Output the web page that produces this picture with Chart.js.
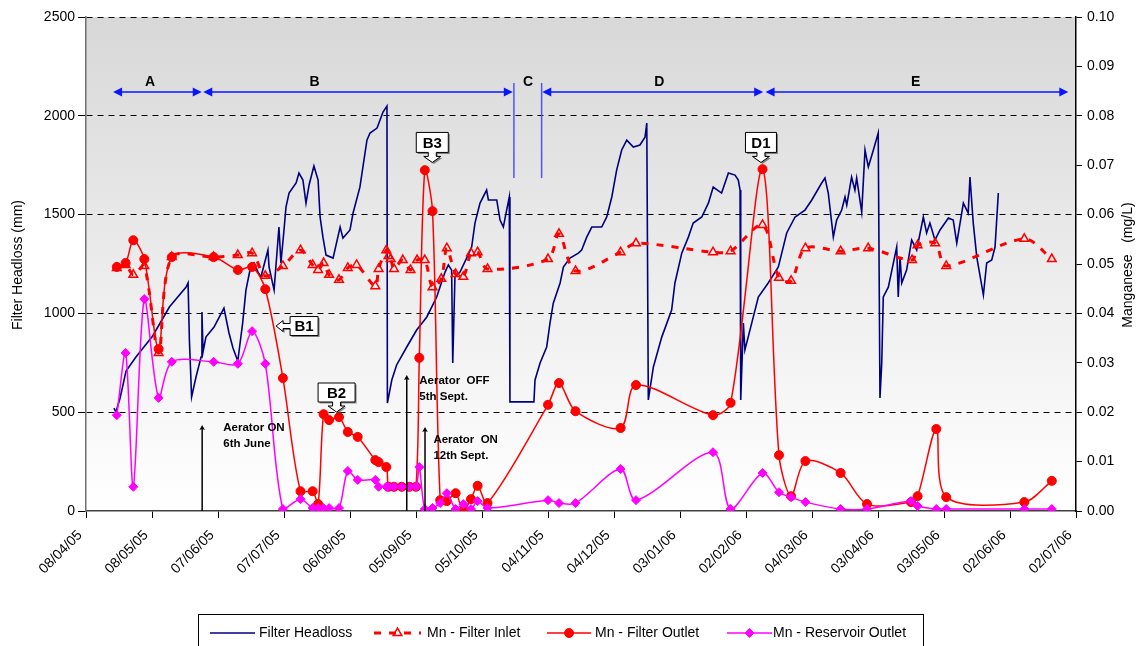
<!DOCTYPE html>
<html>
<head>
<meta charset="utf-8">
<script src="https://cdn.jsdelivr.net/npm/chart.js@4.4.1/dist/chart.umd.min.js"></script>
<style>
  html, body { margin: 0; padding: 0; background: #fff; }
  #wrap { width: 1137px; height: 646px; }
</style>
</head>
<body>
<div id="wrap"><canvas id="chart" width="1137" height="646"></canvas></div>
<script>
// x values are days counted from 08/04/05, one tick every 30 days
const xTickLabels = ['08/04/05', '08/05/05', '07/06/05', '07/07/05', '06/08/05', '05/09/05',
    '05/10/05', '04/11/05', '04/12/05', '03/01/06', '02/02/06', '04/03/06', '03/04/06',
    '03/05/06', '02/06/06', '02/07/06'];

const headlossDays = [12.7, 13.6, 15.5, 18.2, 22.7, 30.3, 37.9, 45.5, 46.4, 47,
    48, 50, 52.3, 52.7, 53.2, 54.5, 58.2, 62.7, 65, 66.8,
    69, 71.2, 72.7, 75, 76.4, 78.2, 79.5, 82.7, 83.2, 85.5,
    87.7, 88.6, 90, 90.9, 92.3, 95.5, 96.8, 98.6, 100, 101.4,
    103.6, 105.5, 106.4, 107.7, 109.1, 112.3, 115.5, 116.8, 120, 121.4,
    124.5, 127.7, 129.1, 132.3, 135, 136.8, 137, 139, 141.2, 145.8,
    150.3, 154.9, 159.4, 163.2, 164.7, 166.2, 166.7, 167.7, 170, 173,
    175.3, 176.8, 179.1, 182.1, 182.9, 186.7, 188.2, 189.7, 191.2, 192.4,
    192.7, 203.6, 204.1, 206.4, 209.4, 210.9, 212.4, 215.5, 217, 220,
    223.8, 225.3, 227.6, 229.9, 234.4, 236.7, 239, 241.2, 243.5, 245.8,
    248.8, 251.8, 254.1, 254.9, 255.6, 257.9, 261.7, 266.2, 267.7, 270.8,
    273.8, 276, 279.9, 282.9, 285.1, 288.9, 292, 295, 296.5, 297.3,
    297.6, 298.8, 299.5, 302.6, 305.6, 310.1, 314.7, 318.5, 322.3, 326.8,
    329.9, 334.4, 335.9, 337.4, 339.7, 341.2, 343.5, 345, 345.8, 348,
    349.5, 350.3, 352.6, 354.1, 355.6, 357.9, 360.1, 360.9, 361.7, 362.4,
    364.7, 368.5, 369.2, 370, 370.8, 373, 375.3, 377.6, 380.6, 382.1,
    383.6, 385.9, 388.2, 392, 394.2, 395.8, 398.8, 401, 401.8, 403.3,
    404.9, 407.9, 409.4, 411.7, 413.2, 414.7];
const headlossMm = [521, 501, 572, 708, 779, 886, 1032, 1133, 1154, 865,
    577, 678, 779, 1007, 805, 880, 931, 1027, 901, 825,
    759, 951, 1118, 1245, 1255, 1209, 1184, 1321, 1235, 1118,
    1437, 1255, 1422, 1538, 1609, 1660, 1710, 1675, 1558, 1650,
    1746, 1675, 1488, 1386, 1295, 1280, 1437, 1381, 1422, 1508,
    1639, 1877, 1913, 1938, 2019, 2049, 546, 663, 739, 830,
    916, 982, 1083, 1209, 1245, 1219, 749, 1184, 1209, 1280,
    1336, 1457, 1558, 1624, 1574, 1574, 1472, 1437, 1523, 1589,
    552, 552, 663, 749, 830, 951, 1052, 1154, 1235, 1280,
    1305, 1321, 1386, 1437, 1437, 1488, 1589, 1725, 1827, 1877,
    1842, 1852, 1892, 1963, 562, 729, 880, 1017, 1154, 1305,
    1386, 1457, 1488, 1558, 1639, 1609, 1710, 1700, 1675, 1624,
    562, 951, 815, 951, 1083, 1154, 1235, 1407, 1488, 1523,
    1574, 1660, 1685, 1609, 1386, 1472, 1523, 1589, 1548, 1690,
    1624, 1685, 1513, 1827, 1741, 1827, 1913, 572, 749, 1083,
    1133, 1336, 1083, 1285, 1154, 1219, 1371, 1321, 1488, 1407,
    1457, 1371, 1422, 1483, 1472, 1356, 1558, 1508, 1690, 1457,
    1285, 1093, 1255, 1270, 1336, 1609];

const inletDays = [14, 18, 21.5, 26.5, 33, 39, 58, 69, 75.5, 81.5,
    89.5, 97.5, 103, 105.5, 108, 110.5, 115, 119, 123, 131.5,
    133, 136.5, 137.5, 138.5, 140, 144, 147.5, 150.5, 154, 157.5,
    161.5, 164, 168, 171.5, 175, 178, 182.5, 210, 215, 222.5,
    243, 250, 285, 293, 307.5, 315, 320.5, 327, 343, 355.5,
    375.5, 378, 386, 391, 426.5, 439];
const inletMn = [0.0492, 0.0498, 0.0478, 0.0496, 0.0320, 0.0514, 0.0514, 0.0518, 0.0522, 0.0476,
    0.0496, 0.0528, 0.0498, 0.0488, 0.0502, 0.0478, 0.0468, 0.0492, 0.0498, 0.0455,
    0.0490, 0.0528, 0.0516, 0.0510, 0.0490, 0.0508, 0.0488, 0.0508, 0.0508, 0.0453,
    0.0470, 0.0532, 0.0480, 0.0474, 0.0522, 0.0524, 0.0490, 0.0510, 0.0561, 0.0486,
    0.0524, 0.0542, 0.0524, 0.0526, 0.0579, 0.0472, 0.0466, 0.0532, 0.0526, 0.0532,
    0.0508, 0.0538, 0.0542, 0.0496, 0.0551, 0.0510];

// outlet and reservoir were sampled on the same days
const sampleDays = [14, 18, 21.5, 26.5, 33, 39, 58, 69, 75.5, 81.5,
    89.5, 97.5, 103, 105.5, 108, 110.5, 115, 119, 123.5, 131.5,
    133, 136.5, 137.5, 140, 143.5, 147, 150, 151.5, 154, 157.5,
    161, 164, 168, 171.5, 175, 178, 182.5, 210, 215, 222.5,
    243, 250, 285, 293, 307.5, 315, 320.5, 327, 343, 355,
    375, 378, 386.5, 391, 426.5, 439];
const outletMn = [0.0494, 0.0502, 0.0548, 0.0510, 0.0328, 0.0514, 0.0514, 0.0488, 0.0494, 0.0449,
    0.0269, 0.0040, 0.0040, 0.0014, 0.0196, 0.0184, 0.0190, 0.0160, 0.0150, 0.0103,
    0.0099, 0.0089, 0.0049, 0.0049, 0.0049, 0.0049, 0.0049, 0.0310, 0.0690, 0.0607,
    0.0022, 0.0020, 0.0036, 0.0000, 0.0024, 0.0051, 0.0016, 0.0215, 0.0259, 0.0202,
    0.0168, 0.0255, 0.0194, 0.0219, 0.0692, 0.0113, 0.0030, 0.0101, 0.0077, 0.0014,
    0.0018, 0.0030, 0.0166, 0.0028, 0.0018, 0.0061];
const reservoirMn = [0.0194, 0.0320, 0.0049, 0.0429, 0.0229, 0.0302, 0.0302, 0.0298, 0.0364, 0.0298,
    0.0004, 0.0024, 0.0006, 0.0006, 0.0006, 0.0006, 0.0006, 0.0081, 0.0063, 0.0063,
    0.0049, 0.0049, 0.0049, 0.0049, 0.0049, 0.0049, 0.0049, 0.0089, 0.0004, 0.0006,
    0.0016, 0.0036, 0.0004, 0.0014, 0.0004, 0.0020, 0.0006, 0.0022, 0.0016, 0.0016,
    0.0085, 0.0022, 0.0119, 0.0004, 0.0077, 0.0038, 0.0028, 0.0018, 0.0004, 0.0004,
    0.0020, 0.0010, 0.0004, 0.0004, 0.0004, 0.0004];

const FONT = 'Arial, "Liberation Sans", sans-serif';
const NAVY = '#000080';
const RED = '#ff0000';
const MAGENTA = '#ff00ff';
const BLUE = '#0a14ff';

// annotation layout, in axis units (days / mm of headloss)
const periods = [
    { label: 'A', from: 12.3, to: 52.6, at: 29.1 },
    { label: 'B', from: 53.3, to: 194, at: 103.9 },
    { label: 'D', from: 207.4, to: 307.8, at: 260.6 },
    { label: 'E', from: 308.9, to: 446.5, at: 377.1 }
];
const periodC = { label: 'C', left: 194.5, right: 207.1, at: 200.9, low: 1685, high: 2166 };
const callouts = [
    { text: 'B1', x: 86.4, y: 936, dir: 'left', w: 28, h: 19 },
    { text: 'B2', x: 113.9, y: 501, dir: 'down', w: 37, h: 19 },
    { text: 'B3', x: 157.4, y: 1764, dir: 'down', w: 32, h: 20 },
    { text: 'D1', x: 306.8, y: 1764, dir: 'down', w: 31, h: 20 }
];
const aerators = [
    { x: 52.8, top: 420, lines: ['Aerator ON', '6th June'], tx: 62.4, ty: 420 },
    { x: 145.8, top: 673, lines: ['Aerator  OFF', '5th Sept.'], tx: 151.5, ty: 658 },
    { x: 154.1, top: 410, lines: ['Aerator  ON', '12th Sept.'], tx: 157.9, ty: 359 }
];

function toPoints(xs, ys) {
    return xs.map((x, i) => ({ x: x, y: ys[i] }));
}

const plotBackground = {
    id: 'plotBackground',
    beforeDraw(chart) {
        const { ctx, chartArea: a } = chart;
        const g = ctx.createLinearGradient(0, a.top, 0, a.bottom);
        g.addColorStop(0, '#d8d8d8');
        g.addColorStop(1, '#ffffff');
        ctx.save();
        ctx.fillStyle = g;
        ctx.fillRect(a.left, a.top, a.right - a.left, a.bottom - a.top);
        ctx.restore();
    }
};

function arrowHead(ctx, x, y, dir) {
    ctx.beginPath();
    ctx.moveTo(x, y);
    ctx.lineTo(x - dir * 9, y - 4.5);
    ctx.lineTo(x - dir * 9, y + 4.5);
    ctx.closePath();
    ctx.fill();
}

function calloutPath(ctx, c, tx, ty) {
    ctx.beginPath();
    if (c.dir === 'down') {
        const b = ty - 10, t = b - c.h, l = tx - c.w / 2, r = tx + c.w / 2;
        ctx.moveTo(l, t);
        ctx.lineTo(r, t);
        ctx.lineTo(r, b);
        ctx.lineTo(tx + 4, b);
        ctx.lineTo(tx + 4, b + 4);
        ctx.lineTo(tx + 8.5, b + 4);
        ctx.lineTo(tx, ty);
        ctx.lineTo(tx - 8.5, b + 4);
        ctx.lineTo(tx - 4, b + 4);
        ctx.lineTo(tx - 4, b);
        ctx.lineTo(l, b);
        ctx.closePath();
        return { cx: tx, cy: (t + b) / 2 };
    }
    const l = tx + 14, r = l + c.w, t = ty - c.h / 2, b = ty + c.h / 2;
    ctx.moveTo(l, t);
    ctx.lineTo(r, t);
    ctx.lineTo(r, b);
    ctx.lineTo(l, b);
    ctx.lineTo(l, ty + 2.5);
    ctx.lineTo(l - 7, ty + 2.5);
    ctx.lineTo(l - 7, ty + 5.5);
    ctx.lineTo(tx, ty);
    ctx.lineTo(l - 7, ty - 5.5);
    ctx.lineTo(l - 7, ty - 2.5);
    ctx.lineTo(l, ty - 2.5);
    ctx.closePath();
    return { cx: (l + r) / 2, cy: ty };
}

const annotations = {
    id: 'annotations',
    afterDatasetsDraw(chart) {
        const { ctx, scales } = chart;
        const px = d => scales.x.getPixelForValue(d);
        const py = v => scales.y.getPixelForValue(v);
        ctx.save();

        // period arrows
        const lineY = py(2120), textY = py(2171);
        ctx.strokeStyle = BLUE;
        ctx.fillStyle = BLUE;
        ctx.lineWidth = 1.5;
        periods.forEach(p => {
            const x1 = px(p.from), x2 = px(p.to);
            ctx.beginPath();
            ctx.moveTo(x1 + 5, lineY);
            ctx.lineTo(x2 - 5, lineY);
            ctx.stroke();
            arrowHead(ctx, x1, lineY, -1);
            arrowHead(ctx, x2, lineY, 1);
        });
        ctx.strokeStyle = '#4a55ff';
        [periodC.left, periodC.right].forEach(d => {
            ctx.beginPath();
            ctx.moveTo(px(d), py(periodC.high));
            ctx.lineTo(px(d), py(periodC.low));
            ctx.stroke();
        });
        ctx.fillStyle = '#000';
        ctx.font = 'bold 14px ' + FONT;
        ctx.textAlign = 'center';
        ctx.textBaseline = 'middle';
        periods.concat([periodC]).forEach(p => ctx.fillText(p.label, px(p.at), textY));

        // aerator markers
        ctx.strokeStyle = '#000';
        ctx.fillStyle = '#000';
        ctx.lineWidth = 1.5;
        aerators.forEach(a => {
            const x = px(a.x), top = py(a.top);
            ctx.beginPath();
            ctx.moveTo(x, py(0));
            ctx.lineTo(x, top);
            ctx.stroke();
            ctx.beginPath();
            ctx.moveTo(x, top - 3);
            ctx.lineTo(x + 2.8, top + 2);
            ctx.lineTo(x, top + 1);
            ctx.lineTo(x - 2.8, top + 2);
            ctx.closePath();
            ctx.fill();
        });
        ctx.font = 'bold 11.5px ' + FONT;
        ctx.textAlign = 'left';
        aerators.forEach(a => {
            a.lines.forEach((s, i) => ctx.fillText(s, px(a.tx), py(a.ty) + i * 15.5));
        });

        // callout boxes
        callouts.forEach(c => {
            const tx = px(c.x), ty = py(c.y);
            ctx.save();
            ctx.shadowColor = 'rgba(0,0,0,0.45)';
            ctx.shadowOffsetX = 1.5;
            ctx.shadowOffsetY = 1.5;
            calloutPath(ctx, c, tx, ty);
            ctx.fillStyle = '#fff';
            ctx.fill();
            ctx.restore();
            const mid = calloutPath(ctx, c, tx, ty);
            ctx.lineWidth = 1;
            ctx.strokeStyle = '#000';
            ctx.stroke();
            ctx.fillStyle = '#000';
            ctx.font = 'bold 15px ' + FONT;
            ctx.textAlign = 'center';
            ctx.fillText(c.text, mid.cx, mid.cy + 1);
        });
        ctx.restore();
    },
    afterDraw(chart) {
        const { ctx } = chart;
        const ds = chart.data.datasets;
        ctx.save();
        // axis titles
        ctx.fillStyle = '#000';
        ctx.font = '14px ' + FONT;
        ctx.textAlign = 'center';
        ctx.textBaseline = 'middle';
        [[18, 'Filter Headloss (mm)'], [1128, 'Manganese   (mg/L)']].forEach(([x, s]) => {
            ctx.save();
            ctx.translate(x, 265);
            ctx.rotate(-Math.PI / 2);
            ctx.fillText(s, 0, 0);
            ctx.restore();
        });

        // legend
        ctx.strokeStyle = '#000';
        ctx.lineWidth = 1;
        ctx.strokeRect(198.5, 614.5, 725, 40);
        const y = 633;
        const samples = [
            { x1: 210, x2: 255, tx: 259 },
            { x1: 374, x2: 421, tx: 427 },
            { x1: 547, x2: 591, tx: 595 },
            { x1: 727, x2: 772, tx: 773 }
        ];
        samples.forEach((s, i) => {
            const d = ds[i];
            ctx.save();
            ctx.strokeStyle = d.borderColor;
            ctx.lineWidth = d.borderWidth;
            ctx.setLineDash(d.borderDash || []);
            ctx.beginPath();
            ctx.moveTo(s.x1, y);
            ctx.lineTo(s.x2, y);
            ctx.stroke();
            ctx.setLineDash([]);
            if (d.pointRadius > 0) {
                ctx.fillStyle = d.pointBackgroundColor;
                ctx.strokeStyle = d.pointBorderColor;
                ctx.lineWidth = d.pointBorderWidth;
                Chart.helpers.drawPoint(ctx, {
                    pointStyle: d.pointStyle, radius: d.pointRadius,
                    rotation: 0, borderWidth: d.pointBorderWidth
                }, (s.x1 + s.x2) / 2, y);
            }
            ctx.restore();
            ctx.fillStyle = '#000';
            ctx.font = '14px ' + FONT;
            ctx.textAlign = 'left';
            ctx.textBaseline = 'middle';
            ctx.fillText(d.label, s.tx, y);
        });
        ctx.restore();
    }
};

new Chart(document.getElementById('chart'), {
    type: 'line',
    data: {
        datasets: [
            {
                label: 'Filter Headloss',
                data: toPoints(headlossDays, headlossMm),
                yAxisID: 'y',
                borderColor: NAVY,
                borderWidth: 1.6,
                pointRadius: 0,
                tension: 0,
                order: 4
            },
            {
                label: 'Mn - Filter Inlet',
                data: toPoints(inletDays, inletMn),
                yAxisID: 'y1',
                borderColor: RED,
                borderWidth: 3,
                borderDash: [7, 8],
                tension: 0.3,
                pointStyle: 'triangle',
                pointRadius: 5,
                pointBorderWidth: 1.5,
                pointBorderColor: RED,
                pointBackgroundColor: 'rgba(255,255,255,0)',
                order: 3
            },
            {
                label: 'Mn - Filter Outlet',
                data: toPoints(sampleDays, outletMn),
                yAxisID: 'y1',
                borderColor: RED,
                borderWidth: 1.5,
                tension: 0.3,
                pointStyle: 'circle',
                pointRadius: 4.5,
                pointBorderWidth: 1,
                pointBorderColor: RED,
                pointBackgroundColor: RED,
                order: 2
            },
            {
                label: 'Mn - Reservoir Outlet',
                data: toPoints(sampleDays, reservoirMn),
                yAxisID: 'y1',
                borderColor: MAGENTA,
                borderWidth: 1.5,
                tension: 0.3,
                pointStyle: 'rectRot',
                pointRadius: 4.5,
                pointBorderWidth: 1,
                pointBorderColor: MAGENTA,
                pointBackgroundColor: MAGENTA,
                order: 1
            }
        ]
    },
    options: {
        responsive: false,
        animation: false,
        devicePixelRatio: 1,
        layout: { padding: { top: 17, left: 0, right: 0, bottom: 0 } },
        plugins: {
            legend: { display: false },
            tooltip: { enabled: false }
        },
        scales: {
            x: {
                type: 'linear',
                min: 0,
                max: 450,
                afterFit(scale) { scale.height = 135; },
                ticks: {
                    stepSize: 30,
                    autoSkip: false,
                    maxRotation: 45,
                    minRotation: 45,
                    color: '#000',
                    padding: 9,
                    labelOffset: -6,
                    font: { family: FONT, size: 14 },
                    callback: v => xTickLabels[Math.round(v / 30)]
                },
                grid: { drawOnChartArea: false, tickLength: 7, tickColor: '#000' },
                border: { color: '#404040', width: 1.5 }
            },
            y: {
                position: 'left',
                min: 0,
                max: 2500,
                afterFit(scale) { scale.width = 86; },
                ticks: {
                    stepSize: 500,
                    color: '#000',
                    padding: 3,
                    font: { family: FONT, size: 14 },
                    callback: v => String(v)
                },
                grid: {
                    color: c => (c.tick && c.tick.value === 0) ? 'rgba(0,0,0,0)' : '#000',
                    lineWidth: 1,
                    tickLength: 8,
                    tickColor: '#000',
                    tickBorderDash: []
                },
                border: { color: '#707070', width: 1.5, dash: [6, 5] }
            },
            y1: {
                position: 'right',
                min: 0,
                max: 0.1,
                afterFit(scale) { scale.width = 61; },
                ticks: {
                    stepSize: 0.01,
                    color: '#000',
                    padding: 5,
                    font: { family: FONT, size: 14 },
                    callback: v => v.toFixed(2)
                },
                grid: { drawOnChartArea: false, tickLength: 6, tickColor: '#000' },
                border: { color: '#000', width: 1.5 }
            }
        }
    },
    plugins: [plotBackground, annotations]
});
</script>
</body>
</html>
